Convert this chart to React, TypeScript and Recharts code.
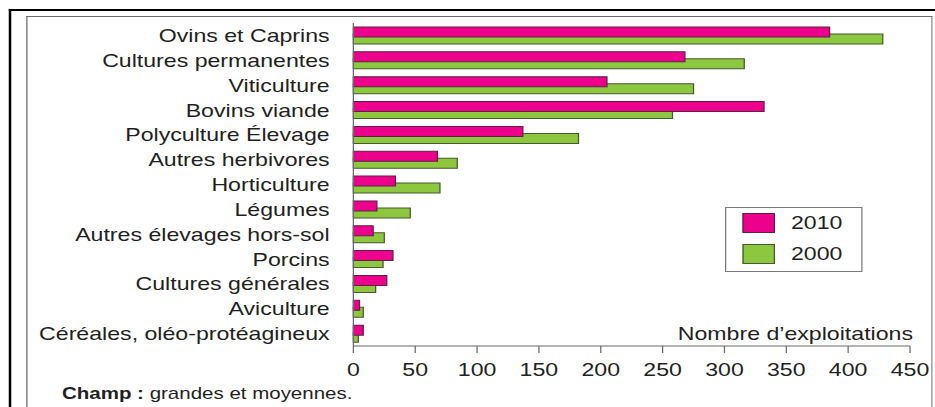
import React from 'react';
import { BarChart, Bar, XAxis, YAxis, Legend } from 'recharts';

const categories = [
  'Ovins et Caprins',
  'Cultures permanentes',
  'Viticulture',
  'Bovins viande',
  'Polyculture Élevage',
  'Autres herbivores',
  'Horticulture',
  'Légumes',
  'Autres élevages hors-sol',
  'Porcins',
  'Cultures générales',
  'Aviculture',
  'Céréales, oléo-protéagineux',
];
const values2010 = [385, 268, 205, 332, 137, 68, 34, 19, 16, 32, 27, 5, 8];
const values2000 = [428, 316, 275, 258, 182, 84, 70, 46, 25, 24, 18, 8, 4];
const xTicks = [0, 50, 100, 150, 200, 250, 300, 350, 400, 450];
const seriesNames = ['2010', '2000'];
const axisTitle = 'Nombre d\u2019exploitations';

const data = categories.map((name, i) => ({
  name,
  y2010: values2010[i],
  y2000: values2000[i],
}));
const boundaryTicks = categories.map((_, i) => i).concat(categories.length);

const FILLS = ['#EC008C', '#8DC63F'];
const STROKES = ['#5e2145', '#46592f'];
const TEXT = '#231f20';
const AXIS = '#6a6a6a';
const FONT = "'Liberation Sans', Arial, Helvetica, sans-serif";
const SX = 1.25;
const W = 935 / SX;
const H = 407;

const LegendBox = (props: any) => {
  const payload = [...(props.payload || [])].sort(
    (a: any, b: any) => seriesNames.indexOf(String(a.value)) - seriesNames.indexOf(String(b.value))
  );
  return (
    <div
      style={{
        width: 110.4,
        height: 65,
        boxSizing: 'border-box',
        border: '1px solid #7a7a7a',
        background: '#fff',
        paddingTop: 5,
        paddingLeft: 12.6,
        fontFamily: FONT,
      }}
    >
      {payload.map((e: any) => {
        const idx = seriesNames.indexOf(String(e.value));
        return (
          <div key={e.value} style={{ display: 'flex', alignItems: 'center', height: 20, marginBottom: 11 }}>
            <span
              style={{
                display: 'inline-block',
                width: 26.4,
                height: 20,
                boxSizing: 'border-box',
                background: FILLS[idx],
                border: `1px solid ${STROKES[idx]}`,
              }}
            />
            <span style={{ marginLeft: 12.8, fontSize: 18.5, lineHeight: '20px', color: TEXT }}>{e.value}</span>
          </div>
        );
      })}
    </div>
  );
};

export default function App() {
  return (
    <div
      style={{
        position: 'absolute',
        left: 0,
        top: 0,
        width: W,
        height: H,
        overflow: 'hidden',
        background: '#fff',
        transform: `scaleX(${SX})`,
        transformOrigin: '0 0',
        fontFamily: FONT,
      }}
    >
      {/* outer black frame */}
      <div
        style={{
          position: 'absolute',
          left: 7.4,
          top: 9.3,
          width: W,
          height: H,
          borderLeft: '2.4px solid #000',
          borderTop: '2.8px solid #000',
        }}
      />
      {/* inner grey frame */}
      <div
        style={{
          position: 'absolute',
          left: 21.2,
          top: 16.2,
          width: 746 - 21.2,
          height: H,
          boxSizing: 'border-box',
          borderLeft: '1.6px solid #6b6b6b',
          borderTop: '1.4px solid #6b6b6b',
          borderRight: '1.2px solid #8a8a8a',
        }}
      />
      <div style={{ position: 'absolute', left: 0, top: 0 }}>
        <BarChart
          width={W}
          height={H}
          data={data}
          layout="vertical"
          margin={{ top: 23, right: 20, bottom: 31, left: 0 }}
          barSize={10}
          barGap={-3}
          style={{ fontFamily: FONT }}
        >
          <XAxis
            type="number"
            domain={[0, 450]}
            ticks={xTicks}
            interval={0}
            height={30}
            tickSize={7}
            tickMargin={10}
            stroke={AXIS}
            tick={{ fontSize: 18.5, fill: TEXT }}
          />
          <YAxis
            yAxisId="cat"
            type="category"
            dataKey="name"
            width={282.7}
            interval={0}
            tickLine={false}
            axisLine={false}
            tickSize={6}
            tickMargin={13}
            tick={{ fontSize: 18.5, fill: TEXT }}
          />
          <YAxis
            yAxisId="bnd"
            type="number"
            orientation="left"
            mirror
            domain={[0, categories.length]}
            ticks={boundaryTicks}
            interval={0}
            tick={false}
            tickSize={-12}
            stroke={AXIS}
          />
          <Legend
            layout="vertical"
            align="center"
            verticalAlign="middle"
            content={LegendBox}
            wrapperStyle={{ left: 580, top: 207, width: 110.4, height: 65 }}
          />
          <Bar
            yAxisId="cat"
            dataKey="y2010"
            name={seriesNames[0]}
            fill={FILLS[0]}
            stroke={STROKES[0]}
            strokeWidth={1}
            isAnimationActive={false}
            zIndex={310}
          />
          <Bar
            yAxisId="cat"
            dataKey="y2000"
            name={seriesNames[1]}
            fill={FILLS[1]}
            stroke={STROKES[1]}
            strokeWidth={1}
            isAnimationActive={false}
          />
        </BarChart>
      </div>
      <div
        style={{
          position: 'absolute',
          right: W - 730.4,
          top: 325,
          fontSize: 18.5,
          lineHeight: 1,
          color: TEXT,
          whiteSpace: 'nowrap',
        }}
      >
        {axisTitle}
      </div>
      <div
        style={{
          position: 'absolute',
          left: 49.6,
          top: 385,
          fontSize: 16.4,
          lineHeight: 1,
          color: TEXT,
          whiteSpace: 'nowrap',
        }}
      >
        <b>Champ :</b> grandes et moyennes.
      </div>
    </div>
  );
}
